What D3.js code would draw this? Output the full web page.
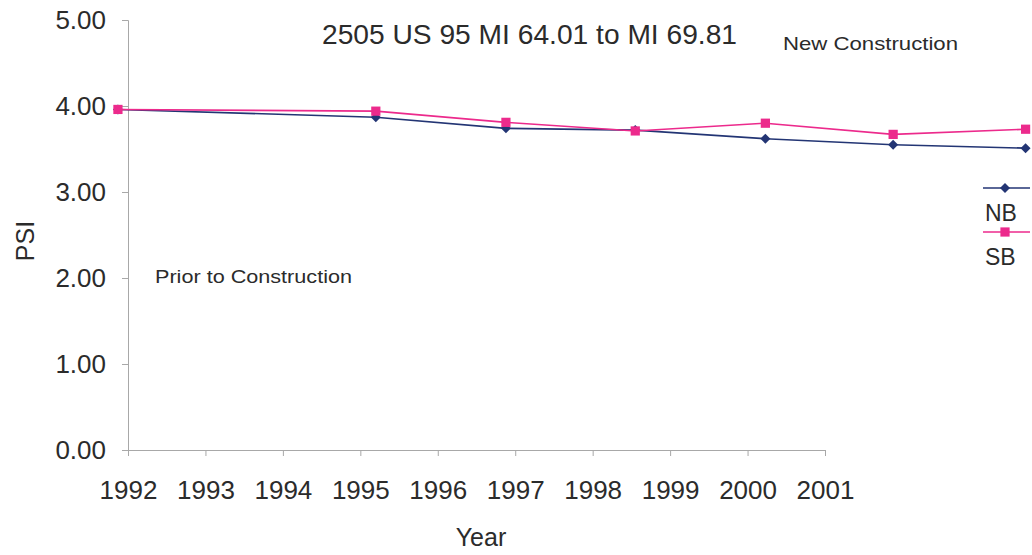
<!DOCTYPE html>
<html>
<head>
<meta charset="utf-8">
<script src="https://cdn.jsdelivr.net/npm/d3@7"></script>
<style>
  body { margin: 0; background: #fff; }
  svg { display: block; }
</style>
</head>
<body>
<div id="chart"></div>
<script>
// survey dates (decimal years) and PSI readings
const surveyYears = [1991.87, 1995.2, 1996.88, 1998.55, 2000.23, 2001.88, 2003.59];
const nbValues = [3.96, 3.87, 3.74, 3.72, 3.62, 3.55, 3.51];
const sbValues = [3.96, 3.94, 3.81, 3.71, 3.80, 3.67, 3.73];
const yearTicks = [1992, 1993, 1994, 1995, 1996, 1997, 1998, 1999, 2000, 2001];
const psiTicks = [0, 1, 2, 3, 4, 5];

const width = 1032, height = 555;
const marginLeft = 128, marginTop = 20, axisRight = 825, axisBottom = 450;
const font = 'Liberation Sans, Arial, Helvetica, sans-serif';
const narrow = 'Liberation Sans Narrow, Arial Narrow, Liberation Sans, Arial, sans-serif';
const axisColor = '#a8a8a8';
const nbColor = '#233574';
const sbColor = '#ec2a8c';

const svg = d3.select('#chart').append('svg')
    .attr('width', width)
    .attr('height', height)
    .attr('viewBox', [0, 0, width, height]);

const x = d3.scaleLinear().domain([1992, 2001]).range([marginLeft, axisRight]);
const y = d3.scaleLinear().domain([0, 5]).range([axisBottom, marginTop]);

// Y AXIS
svg.append('g')
    .attr('transform', `translate(${marginLeft},0)`)
    .call(d3.axisLeft(y).tickValues(psiTicks).tickFormat(d3.format('.2f')).tickSize(6).tickPadding(16))
    .call((g) => g.select('.domain').attr('stroke', axisColor))
    .call((g) => g.selectAll('.tick line').attr('stroke', axisColor))
    .call((g) => g.selectAll('.tick text')
        .attr('font-family', font).attr('font-size', 26).attr('fill', '#2b2b2b'));

// X AXIS
svg.append('g')
    .attr('transform', `translate(0,${axisBottom})`)
    .call(d3.axisBottom(x).tickValues(yearTicks).tickFormat(d3.format('d')).tickSize(6).tickSizeOuter(0).tickPadding(25))
    .call((g) => g.select('.domain').attr('stroke', axisColor))
    .call((g) => g.selectAll('.tick line').attr('stroke', axisColor))
    .call((g) => g.selectAll('.tick text')
        .attr('font-family', font).attr('font-size', 26).attr('fill', '#2b2b2b'));

// axis titles
svg.append('text')
    .attr('x', 481).attr('y', 546)
    .attr('text-anchor', 'middle')
    .attr('font-family', font).attr('font-size', 25).attr('fill', '#2b2b2b')
    .text('Year');

svg.append('text')
    .attr('transform', 'translate(34,241) rotate(-90)')
    .attr('text-anchor', 'middle')
    .attr('font-family', font).attr('font-size', 25).attr('fill', '#2b2b2b')
    .text('PSI');

// title and notes
svg.append('text')
    .attr('x', 322).attr('y', 44)
    .attr('font-family', narrow).attr('font-size', 28).attr('fill', '#2b2b2b')
    .attr('textLength', 415).attr('lengthAdjust', 'spacingAndGlyphs')
    .text('2505 US 95 MI 64.01 to MI 69.81');

svg.append('text')
    .attr('x', 783).attr('y', 50)
    .attr('font-family', narrow).attr('font-size', 19).attr('fill', '#2b2b2b')
    .attr('textLength', 175).attr('lengthAdjust', 'spacingAndGlyphs')
    .text('New Construction');

svg.append('text')
    .attr('x', 155).attr('y', 283)
    .attr('font-family', narrow).attr('font-size', 19).attr('fill', '#2b2b2b')
    .attr('textLength', 197).attr('lengthAdjust', 'spacingAndGlyphs')
    .text('Prior to Construction');

// LINES
const series = [
    { name: 'NB', values: nbValues, color: nbColor, rotate: 45, size: 50 },
    { name: 'SB', values: sbValues, color: sbColor, rotate: 0, size: 85 },
];

const line = d3.line()
    .x((d, i) => x(surveyYears[i]))
    .y((d) => y(d));

series.forEach((s) => {
    svg.append('path')
        .attr('d', line(s.values))
        .attr('fill', 'none')
        .attr('stroke', s.color)
        .attr('stroke-width', 1.6);

    svg.append('g')
        .selectAll('path')
        .data(s.values)
        .join('path')
        .attr('transform', (d, i) => `translate(${x(surveyYears[i])},${y(d)}) rotate(${s.rotate})`)
        .attr('d', d3.symbol(d3.symbolSquare, s.size))
        .attr('fill', s.color);
});

// LEGEND
const legend = svg.append('g').attr('transform', 'translate(983,188)');
series.forEach((s, i) => {
    const g = legend.append('g').attr('transform', `translate(0,${i * 44})`);
    g.append('line')
        .attr('x1', 0).attr('x2', 47)
        .attr('stroke', s.color).attr('stroke-width', 1.6);
    g.append('path')
        .attr('transform', `translate(22,0) rotate(${s.rotate})`)
        .attr('d', d3.symbol(d3.symbolSquare, s.size))
        .attr('fill', s.color);
    g.append('text')
        .attr('x', 2).attr('y', 33)
        .attr('font-family', font).attr('font-size', 23).attr('fill', '#2b2b2b')
        .text(s.name);
});
</script>
</body>
</html>
